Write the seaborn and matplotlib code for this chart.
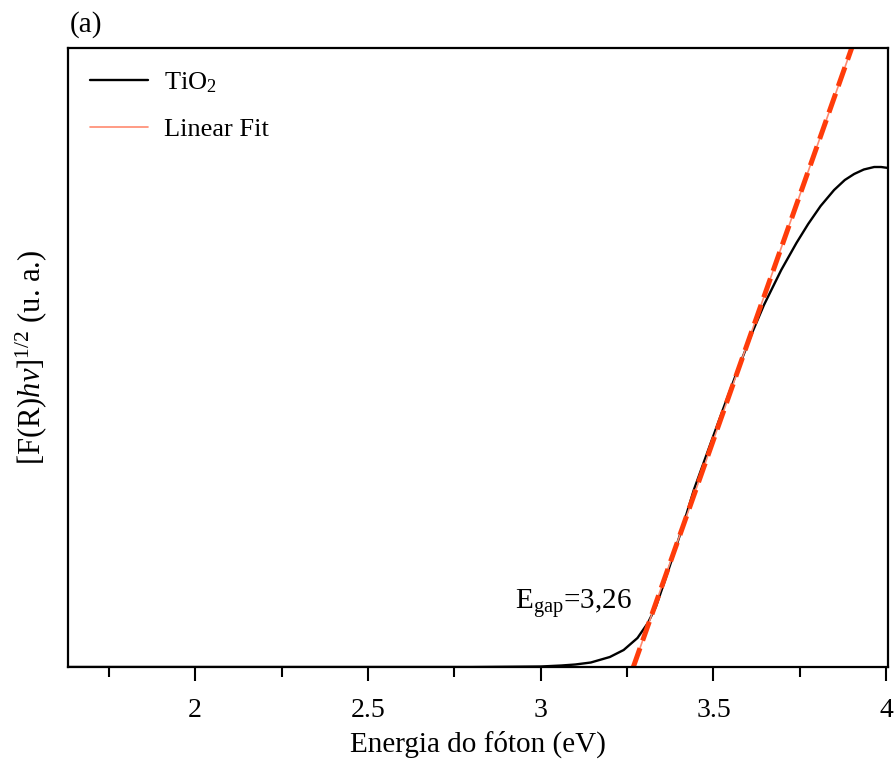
import numpy as np
import pandas as pd
import matplotlib
matplotlib.use("Agg")
import matplotlib.pyplot as plt
import seaborn as sns
from matplotlib.ticker import MultipleLocator

# Data (y in arbitrary units)
energy = [1.63, 2.0, 2.5, 2.8, 3.0, 3.06, 3.10, 3.145, 3.20, 3.24, 3.28, 3.31, 3.333,
          3.357, 3.386, 3.414, 3.443, 3.49, 3.53, 3.571, 3.614, 3.646, 3.696, 3.74,
          3.774, 3.81, 3.849, 3.88, 3.907, 3.935, 3.965, 3.985, 4.006]
signal = [0.0, 0.0, 0.0, 0.0, 0.005, 0.015, 0.025, 0.045, 0.10, 0.17, 0.29, 0.44, 0.60,
          0.84, 1.14, 1.44, 1.77, 2.22, 2.60, 2.98, 3.36, 3.62, 3.97, 4.24,
          4.43, 4.61, 4.77, 4.87, 4.93, 4.975, 5.00, 5.00, 4.99]
fit_x = [3.268, 3.90]
fit_y = [0.0, 6.19]
egap_label = "E$_{\\mathrm{gap}}$=3,26"

df = pd.DataFrame({"E": energy, "S": signal})
dfit = pd.DataFrame({"E": fit_x, "S": fit_y})

sns.set_theme(style="white")
plt.rcParams["font.family"] = ["Liberation Serif", "DejaVu Serif"]
plt.rcParams["mathtext.fontset"] = "custom"
plt.rcParams["mathtext.rm"] = "Liberation Serif"
plt.rcParams["mathtext.it"] = "Liberation Serif:italic"
plt.rcParams["text.color"] = "black"
plt.rcParams["axes.labelcolor"] = "black"
plt.rcParams["xtick.color"] = "black"

fig = plt.figure(figsize=(8.96, 7.63), dpi=100)
ax = fig.add_axes([68/896, 1 - 667/763, 820/896, 619/763])

sns.lineplot(data=df, x="E", y="S", ax=ax, color="black", lw=1.7, label="TiO$_2$")
sns.lineplot(data=dfit, x="E", y="S", ax=ax, color="#ff8a70", lw=1.2, label="Linear Fit")
sns.lineplot(data=dfit, x="E", y="S", ax=ax, color="#ff3c0a", lw=3.6,
             linestyle=(0, (4, 1.6)), legend=False)

ax.set_xlim(1.632, 4.005)
ax.set_ylim(0, 6.19)
ax.set_yticks([])
ax.xaxis.set_minor_locator(MultipleLocator(0.25))
ax.set_xticks([2, 2.5, 3, 3.5, 4])
ax.set_xticklabels(["2", "2.5", "3", "3.5", "4"])
ax.tick_params(axis="x", which="major", direction="out", length=10, width=1.5,
               bottom=True, labelsize=20, pad=12, colors="black")
ax.tick_params(axis="x", which="minor", direction="out", length=7, width=1.5, bottom=True,
               colors="black")
for s in ax.spines.values():
    s.set_visible(True)
    s.set_color("black")
    s.set_linewidth(1.6)

ax.set_xlabel("Energia do fóton (eV)", fontsize=21, labelpad=6, color="black")
ax.set_ylabel("[F(R)$hv$]$^{1/2}$ (u. a.)", fontsize=22, labelpad=14, color="black")

ax.text(3.262, 0.47, egap_label, fontsize=21, ha="right", va="bottom", color="black")
fig.text(70/896, 1 - 38/763, "(a)", fontsize=21, ha="left", va="bottom", color="black")

leg = ax.legend(loc="upper left", frameon=False, fontsize=19, handlelength=2.2,
                borderaxespad=0.45, labelspacing=0.85, handletextpad=0.6)
for t in leg.get_texts():
    t.set_color("black")

fig.savefig("out.png", dpi=100)
